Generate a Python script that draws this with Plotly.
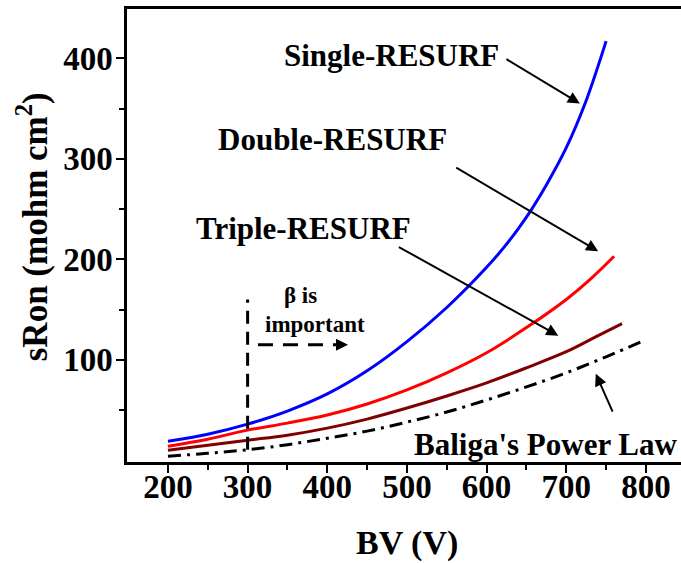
import plotly.graph_objects as go

# ---- data ----
bv_single = [200, 250, 300, 350, 400, 450, 500, 550, 600, 625, 650, 675, 700, 725, 750]
sron_single = [19, 26, 36, 49, 66, 89, 118, 152, 192, 215, 242, 274, 311, 358, 417]

bv_double = [200, 250, 300, 350, 400, 450, 500, 550, 600, 650, 700, 730, 760]
sron_double = [14, 21, 30, 37, 45, 56, 70, 87, 107, 132, 160, 180, 203]

bv_triple = [200, 250, 300, 350, 400, 450, 500, 550, 600, 650, 700, 735, 770]
sron_triple = [10, 15, 20, 25, 32, 41, 52, 64, 77, 92, 108, 122, 136]

bv_baliga = [200, 250, 300, 350, 400, 450, 500, 550, 600, 650, 700, 750, 800]
sron_baliga = [4, 7, 10.5, 15.5, 22, 29, 38, 48, 60, 73, 87, 103, 120]

x_ticks = [200, 300, 400, 500, 600, 700, 800]
x_minor = [250, 350, 450, 550, 650, 750]
y_ticks = [100, 200, 300, 400]
y_minor = [50, 150, 250, 350]

beta_bv = [300, 300]
beta_sron = [10.5, 160]
beta_arrow_bv = [313, 416]
beta_arrow_sron = [115, 115]

FONT = "Liberation Serif, Times New Roman, serif"

fig = go.Figure()
fig.add_trace(go.Scatter(x=bv_single, y=sron_single, mode="lines",
                         line=dict(color="#0000FF", width=3, shape="spline")))
fig.add_trace(go.Scatter(x=bv_double, y=sron_double, mode="lines",
                         line=dict(color="#FF0000", width=3, shape="spline")))
fig.add_trace(go.Scatter(x=bv_triple, y=sron_triple, mode="lines",
                         line=dict(color="#800000", width=3, shape="spline")))
fig.add_trace(go.Scatter(x=bv_baliga, y=sron_baliga, mode="lines",
                         line=dict(color="#000000", width=3, shape="spline",
                                   dash="13px,6px,3px,6px")))
fig.add_trace(go.Scatter(x=beta_bv, y=beta_sron, mode="lines",
                         line=dict(color="#000000", width=3, dash="13px,8px")))
fig.add_trace(go.Scatter(x=beta_arrow_bv, y=beta_arrow_sron, mode="lines",
                         line=dict(color="#000000", width=3, dash="15px,10px")))

ann_font = dict(family=FONT, size=31, color="black", weight="bold")
texts = [
    ("Single-RESURF", 481, 403),
    ("Double-RESURF", 407, 319),
    ("Triple-RESURF", 370, 231),
    ("Baliga's Power Law", 674, 15.5),
]
annotations = []
for t, x, y in texts:
    annotations.append(dict(text=t, x=x, y=y, xref="x", yref="y", showarrow=False,
                            font=ann_font, xanchor="center", yanchor="middle"))
small_font = dict(family=FONT, size=23, color="black", weight="bold")
annotations.append(dict(text="β is", x=366, y=163.5, xref="x", yref="y",
                        showarrow=False, font=small_font))
annotations.append(dict(text="important", x=384, y=135, xref="x", yref="y",
                        showarrow=False, font=small_font))

# arrows: (tip_x, tip_y, tail_x, tail_y)
arrows = [
    (717, 355, 623, 400),
    (740, 208, 560, 292),
    (690, 124, 488, 213),
    (737, 86, 759, 47),
    (426, 115, 410, 115),
]
for tx, ty, sx, sy in arrows:
    annotations.append(dict(text="", x=tx, y=ty, ax=sx, ay=sy, xref="x", yref="y",
                            axref="x", ayref="y", showarrow=True, arrowhead=2,
                            arrowsize=1.2, arrowwidth=2, arrowcolor="black"))

annotations.append(dict(text="sRon (mohm cm<sup>2</sup>)", xref="paper", yref="paper",
                        x=-0.17, y=0.52, textangle=-90, showarrow=False,
                        xanchor="center", yanchor="middle",
                        font=dict(family=FONT, size=35, color="black", weight="bold")))
annotations.append(dict(text="BV (V)", xref="paper", yref="paper",
                        x=0.505, y=-0.178, showarrow=False,
                        xanchor="center", yanchor="middle",
                        font=dict(family=FONT, size=34, color="black", weight="bold")))

fig.update_layout(
    width=681, height=563,
    margin=dict(l=127, r=0, t=9, b=101),
    plot_bgcolor="white", paper_bgcolor="white",
    showlegend=False,
    annotations=annotations,
    xaxis=dict(range=[148.6, 844], showgrid=False, zeroline=False,
               showline=True, linecolor="black", linewidth=2.5, mirror=True,
               ticks="outside", ticklen=8, tickwidth=2, tickcolor="black",
               tickmode="array", tickvals=x_ticks,
               ticktext=[str(v) for v in x_ticks], ticklabelstandoff=-14,
               tickfont=dict(family=FONT, size=33, color="black", weight="bold"),
               minor=dict(tickmode="array", tickvals=x_minor, ticks="outside",
                          ticklen=5, tickwidth=2, tickcolor="black", showgrid=False)),
    yaxis=dict(range=[-1.7, 449], showgrid=False, zeroline=False,
               showline=True, linecolor="black", linewidth=2.5, mirror=False,
               ticks="outside", ticklen=8, tickwidth=2, tickcolor="black",
               tickmode="array", tickvals=y_ticks,
               ticktext=[str(v) for v in y_ticks], ticklabelstandoff=-3,
               tickfont=dict(family=FONT, size=33, color="black", weight="bold"),
               minor=dict(tickmode="array", tickvals=y_minor, ticks="outside",
                          ticklen=5, tickwidth=2, tickcolor="black", showgrid=False)),
)

fig.write_html("out.html", config={"displayModeBar": False},
               post_script="document.body.style.margin='0';document.body.style.overflow='hidden';")
